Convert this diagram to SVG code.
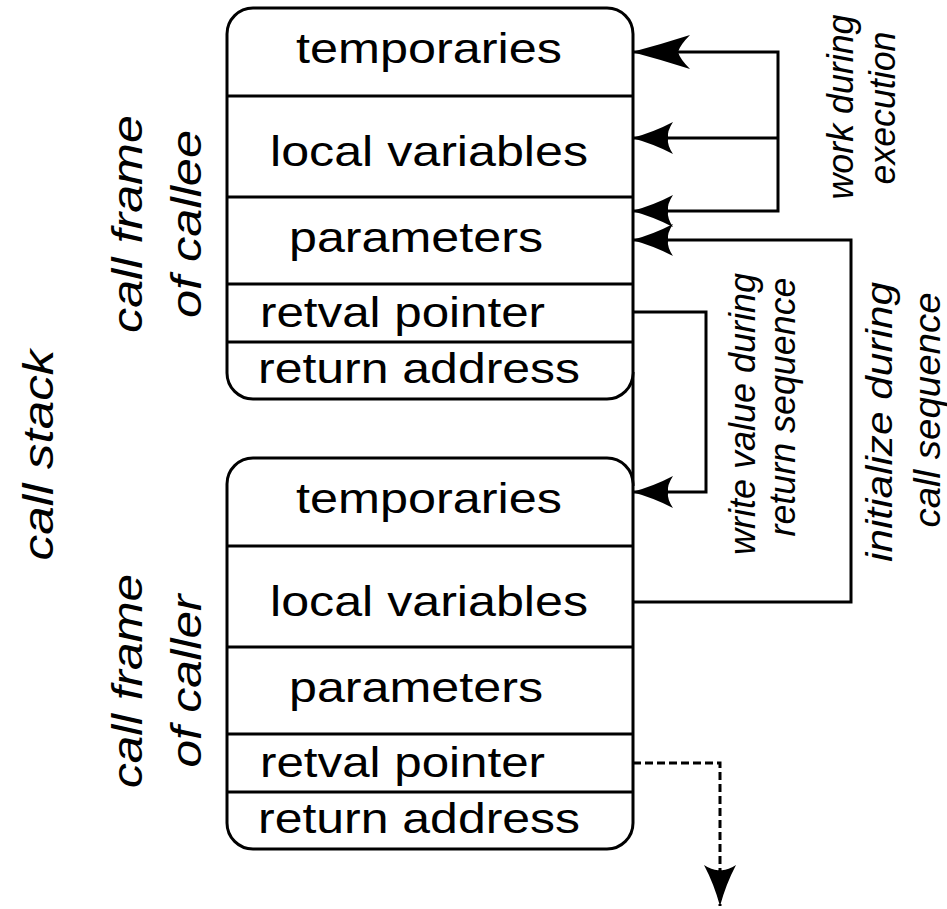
<svg xmlns="http://www.w3.org/2000/svg" width="947" height="909" viewBox="0 0 947 909">
  <style>
    .frame { fill: #fff; stroke: #000; stroke-width: 3; }
    .div { stroke: #000; stroke-width: 3; }
    .cell { font-family: "Liberation Sans", Arial, sans-serif; font-size: 42px; fill: #000; }
    .note { font-family: "Liberation Sans", Arial, sans-serif; font-size: 37px; font-style: italic; fill: #000; }
    .side { font-family: "Liberation Sans", Arial, sans-serif; font-size: 42px; font-style: italic; fill: #000; }
    .edge { fill: none; stroke: #000; stroke-width: 3; }
    .dashed { stroke-dasharray: 8 4; }
  </style>
  <defs>
    <marker id="headLg" markerUnits="userSpaceOnUse" orient="auto" overflow="visible" refX="0" refY="0" markerWidth="1" markerHeight="1">
      <path d="M0,0 Q-30,-8 -58,-17 Q-48,-7 -46,0 Q-48,7 -58,17 Q-30,8 0,0 Z" fill="#000"/>
    </marker>
    <marker id="headSm" markerUnits="userSpaceOnUse" orient="auto" overflow="visible" refX="0" refY="0" markerWidth="1" markerHeight="1">
      <path d="M0,0 Q-22,-6 -41,-16 Q-35,-7 -36,0 Q-35,7 -41,16 Q-22,6 0,0 Z" fill="#000"/>
    </marker>
  </defs>

  <!-- link between the two stack frames -->
  <line class="div" x1="633" y1="372" x2="633" y2="486"/>

  <g id="callee-frame">
    <rect class="frame" x="227" y="8" width="406" height="391" rx="26" ry="26"/>
    <line class="div" x1="227" y1="96" x2="633" y2="96"/>
    <line class="div" x1="227" y1="197" x2="633" y2="197"/>
    <line class="div" x1="227" y1="284" x2="633" y2="284"/>
    <line class="div" x1="227" y1="342" x2="633" y2="342"/>
    <text class="cell" x="296" y="63" textLength="266" lengthAdjust="spacingAndGlyphs">temporaries</text>
    <text class="cell" x="270" y="166" textLength="318" lengthAdjust="spacingAndGlyphs">local variables</text>
    <text class="cell" x="289" y="252" textLength="254" lengthAdjust="spacingAndGlyphs">parameters</text>
    <text class="cell" x="260" y="327" textLength="285" lengthAdjust="spacingAndGlyphs">retval pointer</text>
    <text class="cell" x="258" y="383" textLength="322" lengthAdjust="spacingAndGlyphs">return address</text>
  </g>

  <g id="caller-frame">
    <rect class="frame" x="227" y="458" width="406" height="391" rx="26" ry="26"/>
    <line class="div" x1="227" y1="546" x2="633" y2="546"/>
    <line class="div" x1="227" y1="647" x2="633" y2="647"/>
    <line class="div" x1="227" y1="734" x2="633" y2="734"/>
    <line class="div" x1="227" y1="792" x2="633" y2="792"/>
    <text class="cell" x="296" y="513" textLength="266" lengthAdjust="spacingAndGlyphs">temporaries</text>
    <text class="cell" x="270" y="616" textLength="318" lengthAdjust="spacingAndGlyphs">local variables</text>
    <text class="cell" x="289" y="702" textLength="254" lengthAdjust="spacingAndGlyphs">parameters</text>
    <text class="cell" x="260" y="777" textLength="285" lengthAdjust="spacingAndGlyphs">retval pointer</text>
    <text class="cell" x="258" y="833" textLength="322" lengthAdjust="spacingAndGlyphs">return address</text>
  </g>

  <g id="label-call-stack">
    <text class="side" text-anchor="middle" transform="translate(53 455) rotate(-90)" textLength="211" lengthAdjust="spacingAndGlyphs">call stack</text>
  </g>
  <g id="label-callee">
    <text class="side" text-anchor="middle" transform="translate(142 224) rotate(-90)" textLength="218" lengthAdjust="spacingAndGlyphs">call frame</text>
    <text class="side" text-anchor="middle" transform="translate(201 224) rotate(-90)" textLength="188" lengthAdjust="spacingAndGlyphs">of callee</text>
  </g>
  <g id="label-caller">
    <text class="side" text-anchor="middle" transform="translate(142 681) rotate(-90)" textLength="214" lengthAdjust="spacingAndGlyphs">call frame</text>
    <text class="side" text-anchor="middle" transform="translate(201 681) rotate(-90)" textLength="173" lengthAdjust="spacingAndGlyphs">of caller</text>
  </g>

  <g id="label-work">
    <text class="note" text-anchor="middle" transform="translate(853 107) rotate(-90)" textLength="185" lengthAdjust="spacingAndGlyphs">work during</text>
    <text class="note" text-anchor="middle" transform="translate(895 108) rotate(-90)" textLength="153" lengthAdjust="spacingAndGlyphs">execution</text>
  </g>
  <g id="label-write">
    <text class="note" text-anchor="middle" transform="translate(755 414) rotate(-90)" textLength="282" lengthAdjust="spacingAndGlyphs">write value during</text>
    <text class="note" text-anchor="middle" transform="translate(795 407) rotate(-90)" textLength="259" lengthAdjust="spacingAndGlyphs">return sequence</text>
  </g>
  <g id="label-initialize">
    <text class="note" text-anchor="middle" transform="translate(892 422) rotate(-90)" textLength="280" lengthAdjust="spacingAndGlyphs">initialize during</text>
    <text class="note" text-anchor="middle" transform="translate(940 410) rotate(-90)" textLength="235" lengthAdjust="spacingAndGlyphs">call sequence</text>
  </g>

  <g id="connectors">
    <!-- work during execution -->
    <path class="edge" d="M778,138 L778,52 L632,52" marker-end="url(#headLg)"/>
    <path class="edge" d="M778,138 L632,138" marker-end="url(#headSm)"/>
    <path class="edge" d="M778,138 L778,211 L632,211" marker-end="url(#headSm)"/>
    <!-- initialize during call sequence -->
    <path class="edge" d="M633,602 L851,602 L851,240 L632,240" marker-end="url(#headSm)"/>
    <!-- write value during return sequence -->
    <path class="edge" d="M633,312 L706,312 L706,492 L632,492" marker-end="url(#headSm)"/>
    <!-- caller's retval pointer continues down the stack -->
    <path class="edge dashed" d="M633,763 L720,763 L720,906" marker-end="url(#headSm)"/>
  </g>
</svg>
